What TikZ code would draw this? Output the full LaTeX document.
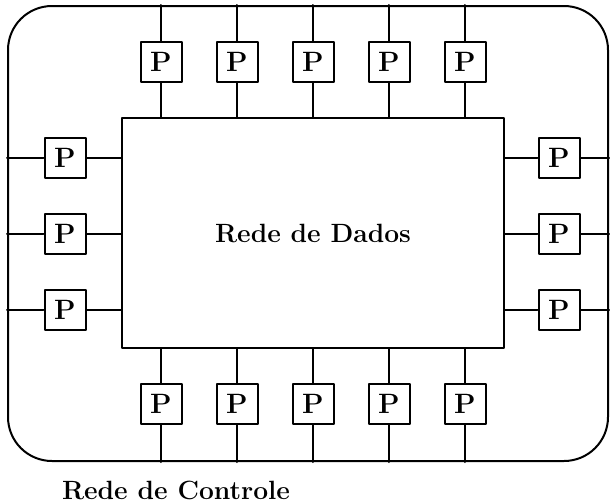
\documentclass[tikz,border=0pt]{standalone}
\begin{document}
\begin{tikzpicture}[x=0.5pt, y=-0.5pt, line cap=round, line join=round, line width=1pt, font=\fontsize{13.2}{15}\bfseries]
	\tikzset{proc/.style={draw, fill=white, minimum width=20.5pt, minimum height=20pt, inner sep=0pt, font=\fontsize{14}{16}\bfseries}}
	\useasboundingbox (0,0) rectangle (610,503);
	% control network (outer frame) and data network (inner box)
	\node[draw, rounded corners=22pt, minimum width=300pt, minimum height=227.5pt] (controle) at (308,233.5) {};
	\node[draw, minimum width=191pt, minimum height=115pt] (dados) at (313,233) {Rede de Dados};
	\node (rotulo) at (176,490) {Rede de Controle};
	% processors above and below
	\foreach \i/\x in {1/161, 2/237, 3/313, 4/389, 5/465}{
		\node[proc] (t\i) at (\x,62) {P};
		\node[proc] (b\i) at (\x,404) {P};
		\draw (t\i) -- (t\i |- controle.north) (t\i) -- (t\i |- dados.north);
		\draw (b\i) -- (b\i |- controle.south) (b\i) -- (b\i |- dados.south);
	}
	% processors left and right
	\foreach \i/\y in {1/158, 2/234, 3/310}{
		\node[proc] (l\i) at (65,\y) {P};
		\node[proc] (r\i) at (559,\y) {P};
		\draw (l\i) -- (l\i -| controle.west) (l\i) -- (l\i -| dados.west);
		\draw (r\i) -- (r\i -| controle.east) (r\i) -- (r\i -| dados.east);
	}
\end{tikzpicture}
\end{document}
